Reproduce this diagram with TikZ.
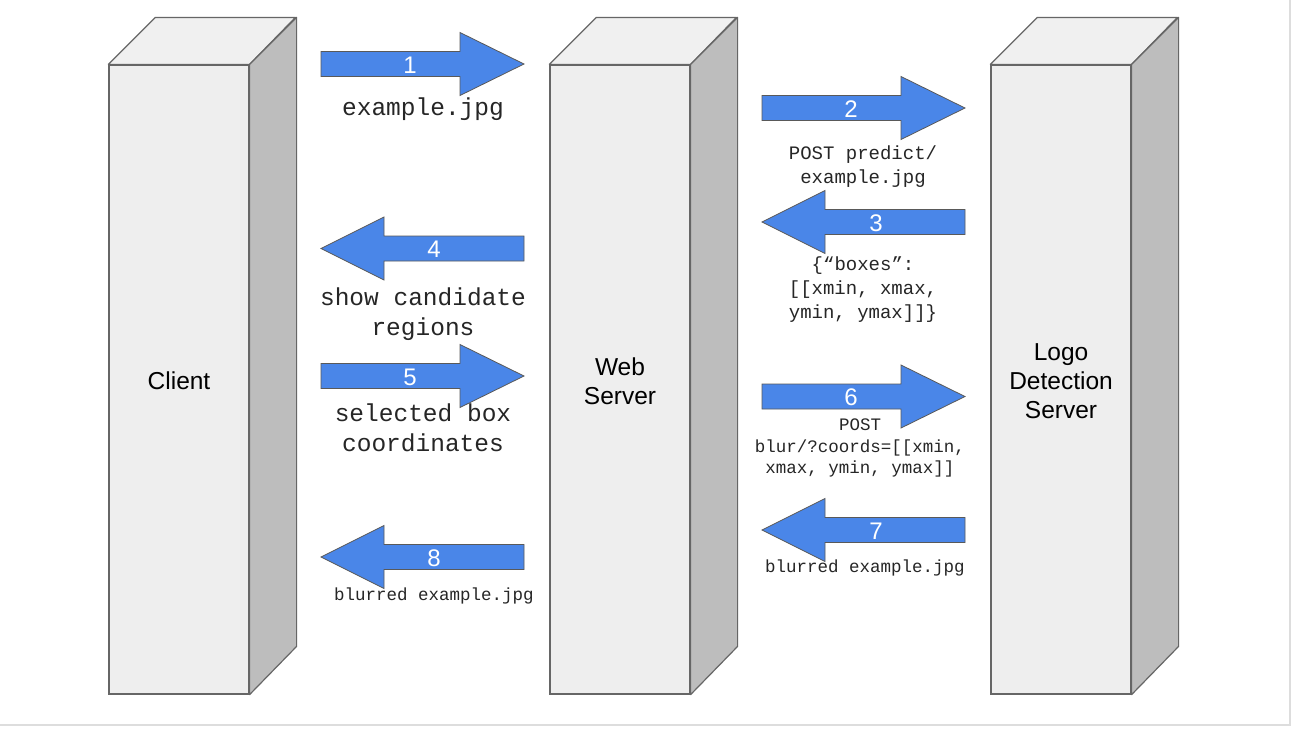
\documentclass[tikz,border=0pt]{standalone}
\usepackage{fontspec}
\setmainfont{Liberation Sans}
\newfontfamily\labelmono{Liberation Mono}
\definecolor{boxline}{HTML}{666666}
\definecolor{frontc}{HTML}{EEEEEE}
\definecolor{topc}{HTML}{F0F0F0}
\definecolor{sidec}{HTML}{BDBDBD}
\definecolor{arrowc}{HTML}{4A86E8}
\definecolor{arrowline}{HTML}{595959}
\definecolor{borderc}{HTML}{DDDDDD}
\definecolor{txt}{HTML}{262626}
\newcommand{\arrR}[2]{%
  \draw[blk] (#1,{#2-12.5}) -- ({#1+139},{#2-12.5}) -- ({#1+139},{#2-31.5}) -- ({#1+203},#2)
    -- ({#1+139},{#2+31.5}) -- ({#1+139},{#2+12.5}) -- (#1,{#2+12.5}) -- cycle;}
\newcommand{\arrL}[2]{%
  \draw[blk] (#1,#2) -- ({#1+63},{#2-31.5}) -- ({#1+63},{#2-12.5}) -- ({#1+203},{#2-12.5})
    -- ({#1+203},{#2+12.5}) -- ({#1+63},{#2+12.5}) -- ({#1+63},{#2+31.5}) -- cycle;}
\begin{document}
\begin{tikzpicture}[x=1pt,y=-1pt,
  front/.style={draw=boxline, fill=frontc, line width=1.2pt, minimum width=140pt,
    minimum height=629pt, inner sep=0pt},
  boxlbl/.style={align=center, text=black, inner sep=0pt, font=\fontsize{24.5}{29}\selectfont},
  topface/.style={draw=boxline, fill=topc, line width=1.2pt, line join=round},
  sideface/.style={draw=boxline, fill=sidec, line width=1.2pt, line join=round},
  blk/.style={draw=arrowline, fill=arrowc, line width=0.8pt, line join=miter},
  num/.style={text=white, inner sep=0pt, font=\fontsize{24}{24}\selectfont},
  biglbl/.style={text=txt, inner sep=0pt, align=center, font=\labelmono\fontsize{24.5}{29.5}\selectfont},
  lbl/.style={text=txt, inner sep=0pt, align=center, font=\labelmono\fontsize{19}{24}\selectfont},
  smlbl/.style={text=txt, inner sep=0pt, align=center, font=\labelmono\fontsize{17.5}{21.5}\selectfont}
]
\useasboundingbox (0,0) rectangle (1295,728);
\fill[white] (0,0) rectangle (1295,728);
\draw[borderc, line width=1.5pt] (1290,0) -- (1290,725) -- (0,725);

% boxes
\foreach \nm/\cx/\txt in {client/179/Client, web/620/{Web\\Server}, logo/1061/{Logo\\Detection\\Server}}{
  \node[front] (\nm) at (\cx,379.5) {};
  \draw[topface] (\nm.north west) -- ++(47,-47) -- ++(140,0) -- (\nm.north east) -- cycle;
  \draw[sideface] (\nm.north east) -- ++(47,-47) -- ++(0,629) -- (\nm.south east) -- cycle;
  \node[boxlbl] (\nm-text) at ([yshift=-1.5pt]\nm.center) {\txt};
}

% arrows
\arrR{321}{64}
\arrR{762}{108}
\arrL{762}{222}
\arrL{321}{248.5}
\arrR{321}{376}
\arrR{762}{396.5}
\arrL{762}{530}
\arrL{321}{557}

\node[num] (n1) at (410,65) {1};
\node[num] (n2) at (851,109) {2};
\node[num] (n3) at (876,223) {3};
\node[num] (n4) at (434,249.5) {4};
\node[num] (n5) at (410,377) {5};
\node[num] (n6) at (851,397.5) {6};
\node[num] (n7) at (876,531) {7};
\node[num] (n8) at (434,558) {8};

% labels
\node[biglbl] (l1) at (423,109.5) {example.jpg};
\node[lbl] (l2) at (863,167) {POST predict/\\example.jpg};
\node[lbl] (l3) at (863,290) {\{“boxes”:\\{[[xmin, xmax,}\\{ymin, ymax]]\}}};
\node[biglbl] (l4) at (423,314) {show candidate\\regions};
\node[biglbl] (l5) at (423,428) {selected box\\coordinates};
\node[smlbl] (l6) at (860,448) {POST\\blur/?coords=[[xmin,\\xmax, ymin, ymax]]};
\node[smlbl] (l7) at (865,568) {blurred example.jpg};
\node[smlbl] (l8) at (434,596) {blurred example.jpg};
\end{tikzpicture}
\end{document}
